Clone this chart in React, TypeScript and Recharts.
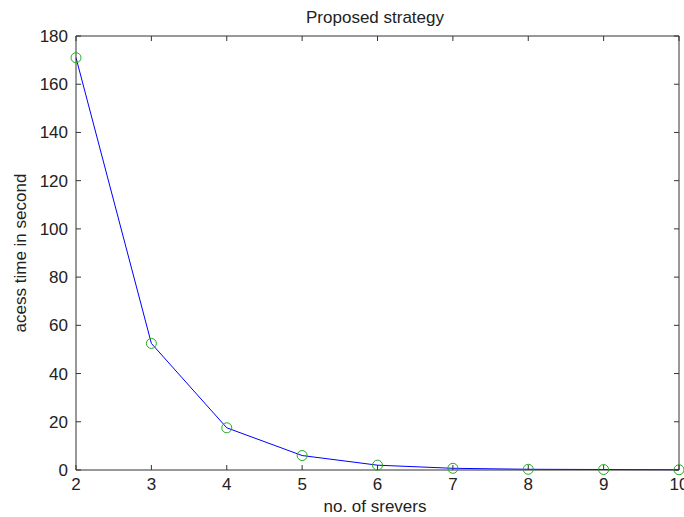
import { LineChart, Line, XAxis, YAxis } from 'recharts'

const servers = [2, 3, 4, 5, 6, 7, 8, 9, 10]
const accessTime = [171, 52.5, 17.5, 6, 2, 0.7, 0.3, 0.2, 0.1]
const xTicks = [2, 3, 4, 5, 6, 7, 8, 9, 10]
const yTicks = [0, 20, 40, 60, 80, 100, 120, 140, 160, 180]

const data = servers.map((n, i) => ({ n, t: accessTime[i] }))

const AXIS = '#333333'
const FONT = '"Liberation Sans", Arial, sans-serif'
const TICK_LEN = 5

const BottomTick = (props: any) => {
    const { x, y, payload } = props
    return (
        <g>
            <line x1={x} y1={y} x2={x} y2={y - TICK_LEN} stroke={AXIS} />
            <text x={x} y={y + 20} textAnchor="middle" fill="#222" fontSize={17} fontFamily={FONT}>
                {payload.value}
            </text>
        </g>
    )
}

const TopTick = (props: any) => {
    const { x, y } = props
    return <line x1={x} y1={y} x2={x} y2={y + TICK_LEN} stroke={AXIS} />
}

const LeftTick = (props: any) => {
    const { x, y, payload } = props
    return (
        <g>
            <line x1={x} y1={y} x2={x + TICK_LEN} y2={y} stroke={AXIS} />
            <text x={x - 8} y={y + 6} textAnchor="end" fill="#222" fontSize={17} fontFamily={FONT}>
                {payload.value}
            </text>
        </g>
    )
}

const RightTick = (props: any) => {
    const { x, y } = props
    return <line x1={x} y1={y} x2={x - TICK_LEN} y2={y} stroke={AXIS} />
}

export default function App() {
    return (
        <div style={{ position: 'absolute', left: 0, top: 0, width: 684, height: 517, background: '#fff' }}>
            <LineChart
                width={684}
                height={517}
                data={data}
                margin={{ top: 35, right: 4, bottom: 17, left: 36 }}
            >
                <XAxis
                    dataKey="n"
                    type="number"
                    domain={[2, 10]}
                    ticks={xTicks}
                    height={30}
                    tickSize={0}
                    tickMargin={0}
                    tickLine={false}
                    axisLine={{ stroke: AXIS }}
                    tick={<BottomTick />}
                    interval={0}
                />
                <XAxis
                    xAxisId="top"
                    orientation="top"
                    dataKey="n"
                    type="number"
                    domain={[2, 10]}
                    ticks={xTicks}
                    height={1}
                    tickSize={0}
                    tickMargin={0}
                    tickLine={false}
                    axisLine={{ stroke: AXIS }}
                    tick={<TopTick />}
                    interval={0}
                />
                <YAxis
                    type="number"
                    domain={[0, 180]}
                    ticks={yTicks}
                    width={40}
                    tickSize={0}
                    tickMargin={0}
                    tickLine={false}
                    axisLine={{ stroke: AXIS }}
                    tick={<LeftTick />}
                    interval={0}
                />
                <YAxis
                    yAxisId="right"
                    orientation="right"
                    type="number"
                    domain={[0, 180]}
                    ticks={yTicks}
                    width={1}
                    tickSize={0}
                    tickMargin={0}
                    tickLine={false}
                    axisLine={{ stroke: AXIS }}
                    tick={<RightTick />}
                    interval={0}
                />
                <Line
                    xAxisId="top"
                    yAxisId="right"
                    dataKey="t"
                    stroke="none"
                    dot={false}
                    legendType="none"
                    isAnimationActive={false}
                />
                <Line
                    dataKey="t"
                    type="linear"
                    stroke="#0000ff"
                    strokeWidth={1}
                    dot={{ r: 5, stroke: '#22aa22', strokeWidth: 1, fill: 'none' }}
                    isAnimationActive={false}
                />
            </LineChart>
            <svg
                width={684}
                height={517}
                style={{ position: 'absolute', left: 0, top: 0, pointerEvents: 'none' }}
            >
                <text x={375} y={23} textAnchor="middle" fill="#222" fontSize={17} fontFamily={FONT}>
                    Proposed strategy
                </text>
                <text x={375} y={512} textAnchor="middle" fill="#222" fontSize={17} fontFamily={FONT}>
                    no. of srevers
                </text>
                <text
                    x={0}
                    y={0}
                    transform="translate(26, 253) rotate(-90)"
                    textAnchor="middle"
                    fill="#222"
                    fontSize={17}
                    fontFamily={FONT}
                >
                    acess time in second
                </text>
            </svg>
        </div>
    )
}
